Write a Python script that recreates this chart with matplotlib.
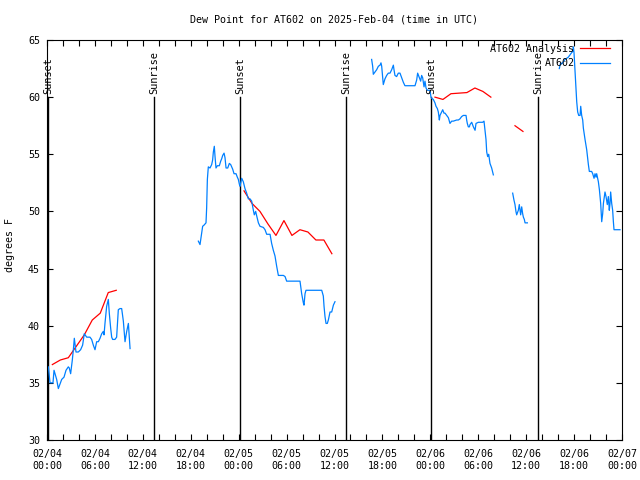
import numpy as np
import matplotlib
matplotlib.use("Agg")
import matplotlib.pyplot as plt
from matplotlib.ticker import MultipleLocator

plt.rcParams['font.family'] = ['DejaVu Sans Mono']

# hours since 2025-02-04 00:00 UTC
obs1_hours = [0.17, 0.38, 0.75, 0.88, 1.21, 1.42, 1.84, 2.13, 2.38, 2.67, 2.79, 2.96, 3.17, 3.30, 3.42,
              3.63, 3.92, 4.21, 4.46, 4.67, 4.97, 5.38, 5.59, 5.80, 6.01, 6.22, 6.43, 6.64, 6.85, 7.05,
              7.14, 7.26, 7.47, 7.68, 7.80, 7.97, 8.10, 8.22, 8.51, 8.72, 8.93, 9.14, 9.35, 9.56, 9.77,
              9.98, 10.19, 10.40]
obs1_dewpt = [36.4, 35.0, 35.0, 36.1, 35.3, 34.5, 35.3, 35.5, 36.1, 36.4, 36.3, 35.8, 37.0, 37.9, 38.9,
              37.7, 37.7, 37.9, 38.3, 39.3, 39.0, 39.0, 38.8, 38.3, 37.9, 38.6, 38.6, 38.9, 39.3, 39.5,
              39.2, 40.2, 41.7, 42.3, 41.1, 39.8, 39.0, 38.8, 38.8, 39.0, 41.4, 41.5, 41.5, 40.4, 38.6,
              39.5, 40.2, 38.0]

obs2_hours = [18.95, 19.16, 19.37, 19.49, 19.66, 19.91, 19.99, 20.08, 20.20, 20.41, 20.62, 20.74, 20.83,
              20.95, 21.04, 21.16, 21.33, 21.58, 21.75, 21.87, 22.00, 22.17, 22.29, 22.42, 22.63, 22.83,
              23.00, 23.25, 23.42, 23.67, 23.83, 23.96, 24.08, 24.17, 24.38, 24.58, 24.79, 25.00, 25.21,
              25.42, 25.63, 25.84, 25.96, 26.13, 26.26, 26.47, 26.67, 27.09, 27.30, 27.51, 27.93, 28.13,
              28.34, 28.55, 28.76, 28.97, 29.60, 29.81, 30.01, 31.68, 31.89, 32.10, 32.18, 32.31, 32.43,
              34.40, 34.60, 34.69, 34.81, 34.94, 35.10, 35.23, 35.44, 35.65, 35.86, 36.06]
obs2_dewpt = [47.4, 47.1, 48.1, 48.7, 48.8, 49.0, 50.3, 52.8, 53.9, 53.8, 54.1, 54.5, 55.2,
              55.7, 54.8, 53.8, 54.0, 54.0, 54.4, 54.6, 54.9, 55.1, 54.7, 53.8, 53.8, 54.2,
              54.1, 53.7, 53.3, 53.3, 53.0, 52.8, 52.4, 52.2, 52.9, 52.6, 52.0, 51.6, 51.1,
              51.1, 50.9, 50.1, 49.7, 50.0, 49.6, 49.0, 48.7, 48.6, 48.4, 48.0, 48.0, 47.2,
              46.6, 46.1, 45.2, 44.4, 44.4, 44.3, 43.9, 43.9, 42.8, 42.0, 41.8, 42.8, 43.1,
              43.1, 42.6, 41.7, 40.8, 40.2, 40.2, 40.5, 41.2, 41.2, 41.8, 42.1]

obs3_hours = [40.65, 40.78, 40.86, 41.07, 41.28, 41.49, 41.70, 41.82, 41.91, 42.03, 42.11, 42.32, 42.53,
              42.74, 42.95, 43.16, 43.37, 43.45, 43.57, 43.78, 43.99, 44.20, 44.41, 44.62, 44.82, 46.08,
              46.29, 46.41, 46.62, 46.79, 46.91, 47.04, 47.21, 47.33, 47.46, 47.62, 47.96, 48.08, 48.17,
              48.37, 48.58, 48.71, 48.88, 49.00, 49.13, 49.21, 49.42, 49.55, 49.71, 49.84, 50.05, 50.26,
              50.46, 50.67, 50.88, 51.30, 51.51, 51.71, 51.92, 52.13, 52.47, 52.55, 52.63, 52.76, 52.89,
              52.97, 53.18, 53.39, 53.60, 53.72, 54.01, 54.55, 54.72, 54.85, 54.97, 55.06, 55.18, 55.31,
              55.47, 55.68, 55.89]
obs3_dewpt = [63.3, 62.7, 62.0, 62.2, 62.4, 62.7, 62.8, 63.0, 62.7, 61.8, 61.1, 61.6, 61.9,
              62.1, 62.1, 62.4, 62.8, 62.4, 61.9, 61.8, 62.1, 62.1, 61.7, 61.3, 61.0, 61.0,
              61.5, 62.1, 61.7, 61.4, 61.9, 61.7, 60.9, 61.4, 60.8, 60.6, 60.6, 60.0, 59.9,
              59.8, 59.5, 59.2, 59.0, 58.7, 58.0, 58.4, 58.7, 58.9, 58.6, 58.6, 58.4, 58.2,
              57.7, 57.9, 57.9, 58.0, 58.0, 58.1, 58.3, 58.4, 58.4, 58.0, 57.7, 57.4, 57.4,
              57.6, 57.8, 57.4, 57.1, 57.7, 57.8, 57.8, 57.9, 57.1, 56.3, 55.2, 54.8, 55.0,
              54.2, 53.8, 53.2]

obs4_hours = [58.31, 58.47, 58.60, 58.72, 58.81, 59.02, 59.14, 59.23, 59.31, 59.44, 59.56, 59.65, 59.77,
              59.86, 60.15]
obs4_dewpt = [51.6, 51.0, 50.6, 50.0, 49.7, 50.1, 50.6, 50.1, 49.7, 50.4, 49.8, 49.5, 49.3,
              49.0, 49.0]

obs5_hours = [64.15, 64.24, 64.32, 64.45, 64.57, 64.66, 64.87, 65.07, 65.28, 65.49, 65.70, 65.83, 65.91,
              65.99, 66.12, 66.20, 66.33, 66.45, 66.58, 66.75, 66.83, 66.95, 67.08, 67.16, 67.37, 67.58,
              67.66, 67.79, 67.91, 68.20, 68.33, 68.50, 68.62, 68.75, 68.83, 69.04, 69.17, 69.33, 69.46,
              69.58, 69.67, 69.79, 69.87, 70.00, 70.16, 70.29, 70.41, 70.50, 70.58, 70.71, 70.83, 70.92,
              71.00, 71.75]
obs5_dewpt = [62.5, 62.8, 63.0, 62.9, 63.0, 63.1, 63.3, 63.4, 63.5, 63.7, 63.9, 64.0, 64.4,
              63.9, 62.2, 61.2, 59.6, 58.7, 58.4, 58.4, 59.2, 58.4, 58.0, 57.3, 56.3, 55.4,
              54.9, 54.1, 53.5, 53.5, 53.3, 52.9, 53.3, 53.0, 53.3, 52.6, 51.9, 50.7, 49.1,
              49.8, 50.7, 51.3, 51.7, 51.3, 50.6, 51.3, 50.1, 50.7, 51.7, 50.7, 50.1, 49.1,
              48.4, 48.4]

ana1_hours = [0.67, 1.67, 2.67, 3.67, 4.67, 5.67, 6.67, 7.67, 8.67]
ana1_dewpt = [36.6, 37.0, 37.2, 38.2, 39.2, 40.5, 41.1, 42.9, 43.1]
ana2_hours = [24.67, 25.67, 26.67, 27.67, 28.67, 29.67, 30.67, 31.67, 32.67, 33.67, 34.67, 35.67]
ana2_dewpt = [51.8, 50.7, 50.0, 48.9, 47.9, 49.2, 47.9, 48.4, 48.2, 47.5, 47.5, 46.3]
ana3_hours = [48.58, 49.58, 50.58, 51.58, 52.58, 53.58, 54.58, 55.58]
ana3_dewpt = [60.0, 59.8, 60.3, 60.35, 60.4, 60.8, 60.5, 60.0]
ana4_hours = [58.6, 59.6]
ana4_dewpt = [57.5, 57.0]

sun_hours = [0.1, 13.4, 24.17, 37.5, 48.08, 61.52]
sun_labels = ['Sunset', 'Sunrise', 'Sunset', 'Sunrise', 'Sunset', 'Sunrise']

tick_hours = list(range(0, 73, 6))
tick_labels = ['02/04\n00:00', '02/04\n06:00', '02/04\n12:00', '02/04\n18:00',
               '02/05\n00:00', '02/05\n06:00', '02/05\n12:00', '02/05\n18:00',
               '02/06\n00:00', '02/06\n06:00', '02/06\n12:00', '02/06\n18:00',
               '02/07\n00:00']


def join(*segs):
    out = []
    for s in segs:
        out += list(s) + [np.nan]
    return np.array(out[:-1], dtype=float)


obs_h = join(obs1_hours, obs2_hours, obs3_hours, obs4_hours, obs5_hours)
obs_v = join(obs1_dewpt, obs2_dewpt, obs3_dewpt, obs4_dewpt, obs5_dewpt)
ana_h = join(ana1_hours, ana2_hours, ana3_hours, ana4_hours)
ana_v = join(ana1_dewpt, ana2_dewpt, ana3_dewpt, ana4_dewpt)

fs = 7.2
fig = plt.figure(figsize=(6.4, 4.8), dpi=100)
ax = fig.add_axes([47/640, 40/480, 575/640, 400/480])

for h, lab in zip(sun_hours, sun_labels):
    ax.plot([h, h], [30, 60], color='black', lw=1.0)
    ax.text(h, 60.3, lab, rotation=90, ha='center', va='bottom', fontsize=7.4)

ax.plot(ana_h, ana_v, color='red', lw=0.9, label='AT602 Analysis')
ax.plot(obs_h, obs_v, color='#0080ff', lw=0.9, label='AT602')

ax.set_xlim(0, 72)
ax.set_ylim(30, 65)
ax.set_xticks(tick_hours)
ax.set_xticklabels(tick_labels, linespacing=1.25)
ax.xaxis.set_minor_locator(MultipleLocator(2))
ax.yaxis.set_major_locator(MultipleLocator(5))
ax.tick_params(which='both', direction='in', top=True, right=True, labelsize=fs,
               length=4, width=0.8)
ax.tick_params(axis='x', pad=6.5)
ax.tick_params(axis='y', pad=5)
for s in ax.spines.values():
    s.set_linewidth(0.8)

ax.legend(loc='upper right', bbox_to_anchor=(1 - 7/575, 1 + 1/400), frameon=False,
          markerfirst=False, fontsize=fs, handlelength=3.0, handletextpad=0.55,
          labelspacing=0.45, borderaxespad=0.2, borderpad=0.3)

fig.text(334/640, 1 - 19/480, 'Dew Point for AT602 on 2025-Feb-04 (time in UTC)',
         ha='center', va='center', fontsize=fs)
fig.text(10/640, 1 - 245/480, 'degrees F', rotation=90, ha='center', va='center', fontsize=fs)

fig.savefig('out.png', dpi=100)
